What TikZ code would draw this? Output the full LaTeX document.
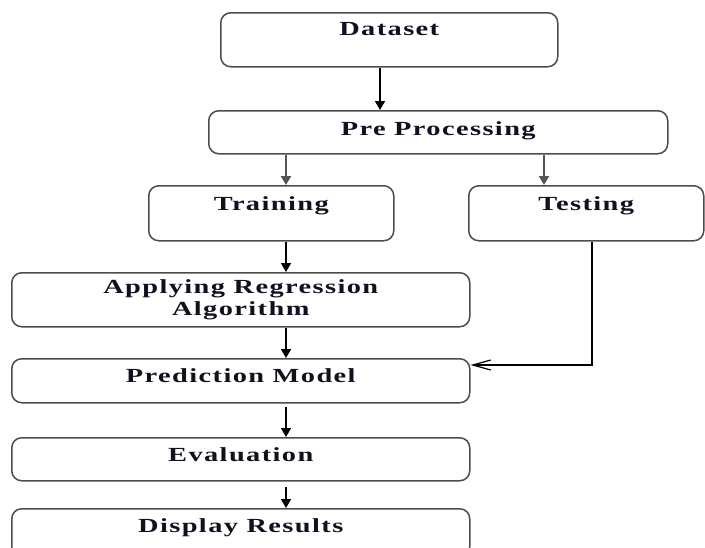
\documentclass[tikz,border=0pt]{standalone}
\usepackage{fontspec}
\newfontfamily\boxfont[FakeStretch=1.42, LetterSpace=7]{Liberation Serif}
\usepackage{tikz}
\usetikzlibrary{calc, positioning, arrows.meta}
\definecolor{boxgray}{HTML}{4D4D4D}
\definecolor{arrowgray}{HTML}{555555}
\definecolor{txtcol}{HTML}{101020}

\begin{document}
\begin{tikzpicture}[x=0.5pt, y=-0.5pt,
        stepbox/.style={draw=boxgray, line width=0.75pt, rounded corners=5pt, inner sep=0pt,
            anchor=north west, text=txtcol, align=center,
            font=\boxfont\bfseries\fontsize{10}{11}\selectfont},
        flow/.style={-{Triangle[width=5pt, length=4.5pt]}, line width=0.8pt},
        flowgray/.style={flow, draw=arrowgray, line width=1.1pt},
        back/.style={-{Straight Barb[width=5pt, length=9pt]}, line width=0.6pt}]
        \clip (0,0) rectangle (705,547);
        \fill[white] (0,0) rectangle (705,547);
        \node[stepbox, minimum width=168.5pt, text height=11.5pt, text depth=15.5pt] (data) at (220,12) {Dataset};
        \node[stepbox, minimum width=229.5pt, text height=12.5pt, text depth=9pt] (pre) at (208,110) {Pre Processing};
        \node[stepbox, minimum width=122.5pt, text height=12.5pt, text depth=15pt] (train) at (148,185) {Training};
        \node[stepbox, minimum width=117.5pt, text height=12.5pt, text depth=15pt] (test) at (468,185) {Testing};
        \node[stepbox, minimum width=229pt, minimum height=27pt] (apply) at (11,272) {Applying Regression\\Algorithm};
        \node[stepbox, minimum width=229pt, text height=12pt, text depth=10pt] (pred) at (11,358) {Prediction Model};
        \node[stepbox, minimum width=229pt, text height=12pt, text depth=9.5pt] (eval) at (11,437) {Evaluation};
        \node[stepbox, minimum width=229pt, text height=12pt, text depth=12pt] (disp) at (11,508) {Display Results};
        \coordinate (datax) at (380,0);
        \coordinate (mainx) at (286,0);
        \coordinate (testx) at (544,0);
        \coordinate (backx) at (592,0);
        \draw[flow] (data.south -| datax) -- (pre.north -| datax);
        \draw[flowgray] (pre.south -| mainx) -- (train.north -| mainx);
        \draw[flowgray] (pre.south -| testx) -- (test.north -| testx);
        \foreach \a/\b in {train/apply, apply/pred} {\draw[flow] (\a.south -| mainx) -- (\b.north -| mainx);}
        \draw[flow, shorten <=1.5pt] (pred.south -| mainx) -- (eval.north -| mainx);
        \draw[flow, shorten <=2.5pt] (eval.south -| mainx) -- (disp.north -| mainx);
        \draw[back] (test.south -| backx) |- ([yshift=-3.5pt]pred.north east);
\end{tikzpicture}
\end{document}
